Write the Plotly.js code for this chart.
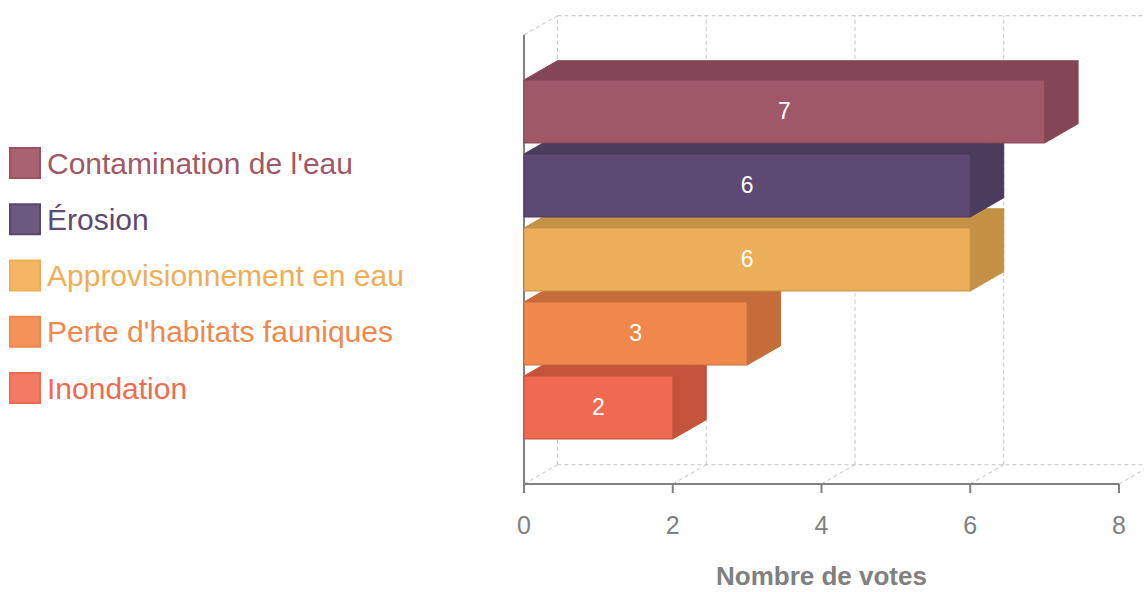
<!DOCTYPE html>
<html><head><meta charset="utf-8">
<script src="https://cdn.plot.ly/plotly-3.0.1.min.js"></script>
<style>html,body{margin:0;padding:0;background:#fff}</style></head><body>
<div id="chart" style="width:1144px;height:592px"></div>
<script>
const categories = ["Contamination de l'eau", "Érosion", "Approvisionnement en eau", "Perte d'habitats fauniques", "Inondation"];
const votes = [7, 6, 6, 3, 2];
const xTicks = [0, 2, 4, 6, 8];
const frontColors = ['#a05868', '#5c4a72', '#ecae58', '#f0884c', '#ef6a50'];
const darkColors = ['#844656', '#4a3c5c', '#c49145', '#c56c3b', '#c4533c'];
const swatchFill = ['#a86272', '#6a5a80', '#f3b664', '#f4925a', '#f37a62'];
const swatchLine = ['#9e5062', '#574775', '#f0ad55', '#f0884c', '#f06a50'];
const textColors = ['#a05868', '#5c4a72', '#f0ad55', '#f0884c', '#f06a50'];
const axisTitle = 'Nombre de votes';

const W = 1144, H = 592, L = 514, R = 0, T = 10, B = 98;
const pxPerX = 74.375, pxPerY = 74;
const n = categories.length;
const framePad = 0.534;
const yBot = -0.5 - framePad, yTop = n - 0.5 + framePad;
const dx = 0.45, dy = 0.26;
const half = 0.4257;
const xMin = -(524 - L) / pxPerX;
const xMax = xMin + (W - L - R) / pxPerX;
const yMin = yBot - (H - B - 484) / pxPerY;
const yMax = yMin + (H - T - B) / pxPerY;
const xLast = xTicks[xTicks.length - 1];

const idx = categories.map((c, i) => n - 1 - i);
const font = 'Liberation Sans, Arial, sans-serif';
const grid = {color: '#c4c4c4', width: 1, dash: '4px,3px'};
const shapes = [];
function seg(x0, y0, x1, y1, line) { shapes.push({type: 'line', xref: 'x', yref: 'y', x0, y0, x1, y1, line, layer: 'below'}); }

// back wall grid & floor
xTicks.forEach(v => {
  seg(v + dx, yBot + dy, v + dx, yTop + dy, grid);
  seg(v, yBot, v + dx, yBot + dy, grid);
});
seg(dx, yTop + dy, xMax, yTop + dy, grid);
seg(dx, yBot + dy, xMax, yBot + dy, grid);
seg(0, yTop, dx, yTop + dy, grid);

// 3D faces (bottom category first)
for (let i = n - 1; i >= 0; i--) {
  const c = idx[i], v = votes[i];
  const topPath = `M0,${c + half} L${v},${c + half} L${v + dx},${c + half + dy} L${dx},${c + half + dy} Z`;
  const sidePath = `M${v},${c - half} L${v},${c + half} L${v + dx},${c + half + dy} L${v + dx},${c - half + dy} Z`;
  shapes.push({type: 'path', xref: 'x', yref: 'y', path: topPath, fillcolor: darkColors[i], line: {color: darkColors[i], width: 1}, layer: 'below'});
  shapes.push({type: 'path', xref: 'x', yref: 'y', path: sidePath, fillcolor: darkColors[i], line: {color: darkColors[i], width: 1}, layer: 'below'});
}

// axis lines and ticks
const axLine = {color: '#808080', width: 2};
seg(0, yBot, 0, yTop, axLine);
seg(0, yBot, xLast, yBot, axLine);
xTicks.forEach(v => seg(v, yBot, v, yBot - 9 / pxPerY, axLine));

// legend
const px2x = px => (px - L) / (W - L - R);
const px2y = py => (H - B - py) / (H - T - B);
const annotations = [];
categories.forEach((c, i) => {
  const cy = 163 + i * 56.25;
  shapes.push({type: 'rect', xref: 'paper', yref: 'paper', x0: px2x(10), x1: px2x(40), y0: px2y(cy + 15), y1: px2y(cy - 15),
    fillcolor: swatchFill[i], line: {color: swatchLine[i], width: 2}});
  annotations.push({xref: 'paper', yref: 'paper', x: px2x(45), y: px2y(cy), xanchor: 'left', yanchor: 'middle',
    text: c, showarrow: false, font: {family: font, size: 30, color: textColors[i]}});
});
annotations.push({xref: 'x', yref: 'paper', x: xLast / 2, y: px2y(576), xanchor: 'center', yanchor: 'middle', borderpad: 0,
  text: '<b>' + axisTitle + '</b>', showarrow: false, font: {family: font, size: 26, color: '#808080'}});

const trace = {
  type: 'bar', orientation: 'h', x: votes, y: idx, width: 2 * half,
  marker: {color: frontColors, line: {color: darkColors, width: 1}},
  text: votes.map(String), textposition: 'inside', insidetextanchor: 'middle', textangle: 0,
  textfont: {family: font, size: 23, color: '#ffffff'},
  hoverinfo: 'none', showlegend: false
};

const layout = {
  width: W, height: H, margin: {l: L, r: R, t: T, b: B},
  paper_bgcolor: '#ffffff', plot_bgcolor: 'rgba(0,0,0,0)',
  xaxis: {range: [xMin, xMax], tickvals: xTicks, ticktext: xTicks.map(String), showgrid: false, zeroline: false, showline: false,
    ticks: '', ticklabelstandoff: 14, tickfont: {family: font, size: 25, color: '#808080'}},
  yaxis: {range: [yMin, yMax], showgrid: false, zeroline: false, showline: false, showticklabels: false, ticks: ''},
  shapes, annotations, showlegend: false, font: {family: font}
};
Plotly.newPlot('chart', [trace], layout, {displayModeBar: false, staticPlot: true});
</script>
</body></html>
